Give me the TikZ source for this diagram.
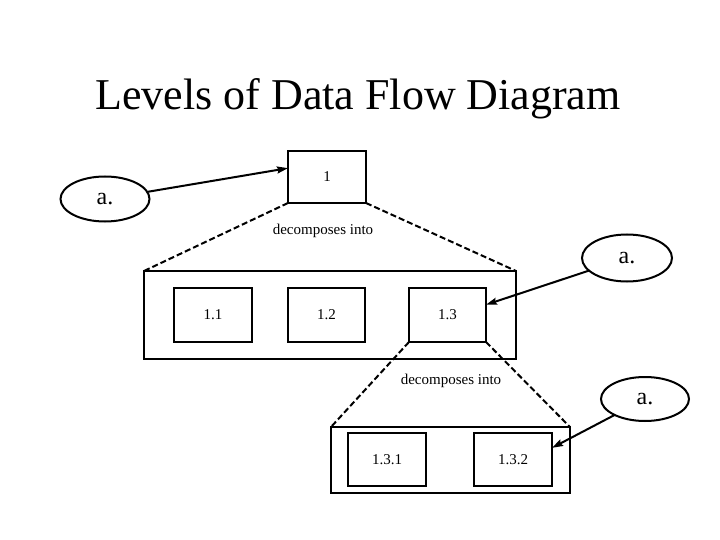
\documentclass[tikz,border=0pt]{standalone}
\usepackage{fontspec}
\setmainfont{Liberation Serif}
\usetikzlibrary{shapes.geometric,arrows.meta,calc}
\begin{document}
\begin{tikzpicture}[x=1pt,y=-1pt,
  procbox/.style={draw,line width=2.4pt,rectangle,inner sep=0pt,outer sep=0pt,font=\fontsize{15}{18}\selectfont},
  extent/.style={draw,line width=2pt,ellipse,inner sep=0pt,outer sep=0pt,minimum width=89pt,minimum height=45pt,font=\fontsize{24}{28}\selectfont},
  decomp/.style={line width=2pt,dash pattern=on 6pt off 3pt},
  flow/.style={line width=2pt,-{Stealth[length=11pt,width=7pt,inset=1.5pt]}},
  lbl/.style={font=\fontsize{15}{18}\selectfont,inner sep=0pt}]
\useasboundingbox (0,0) rectangle (720,540);
\node[anchor=base,inner sep=0pt,font=\fontsize{44}{50}\selectfont] (title) at (358,110) {Levels of Data Flow Diagram};
% level 0
\node[procbox,minimum width=78pt,minimum height=52pt] (b1) at (327,177) {1};
\node[extent] (e1) at (105,199) {a.};
\coordinate (t1) at ($(b1.north west)!0.33!(b1.south west)$);
\draw[flow] (e1) -- (t1);
\node[lbl] (d1) at (323,231) {decomposes into};
% level 1
\node[procbox,minimum width=372pt,minimum height=88pt] (big1) at (330,315) {};
\node[procbox,minimum width=78pt,minimum height=54pt] (b11) at (213,315) {1.1};
\node[procbox,minimum width=77pt,minimum height=54pt] (b12) at (326.5,315) {1.2};
\node[procbox,minimum width=77pt,minimum height=54pt] (b13) at (447.5,315) {1.3};
\draw[decomp] (b1.south west) -- (big1.north west);
\draw[decomp] (b1.south east) -- (big1.north east);
\node[extent,minimum width=90pt,minimum height=47pt] (e2) at (627,258) {a.};
\coordinate (t2) at ($(b13.north east)!0.31!(b13.south east)$);
\draw[flow] (e2) -- (t2);
\node[lbl] (d2) at (451,381) {decomposes into};
% level 2
\node[procbox,minimum width=239pt,minimum height=66pt] (big2) at (450.5,460) {};
\node[procbox,minimum width=78pt,minimum height=53pt] (b131) at (387,459.5) {1.3.1};
\node[procbox,minimum width=78pt,minimum height=53pt] (b132) at (513,459.5) {1.3.2};
\draw[decomp] (b13.south west) -- (big2.north west);
\draw[decomp] (b13.south east) -- (big2.north east);
\node[extent,minimum width=88pt,minimum height=44pt] (e3) at (645,399) {a.};
\coordinate (t3) at ($(b132.north east)!0.28!(b132.south east)$);
\draw[flow] (e3) -- (t3);
\end{tikzpicture}
\end{document}
